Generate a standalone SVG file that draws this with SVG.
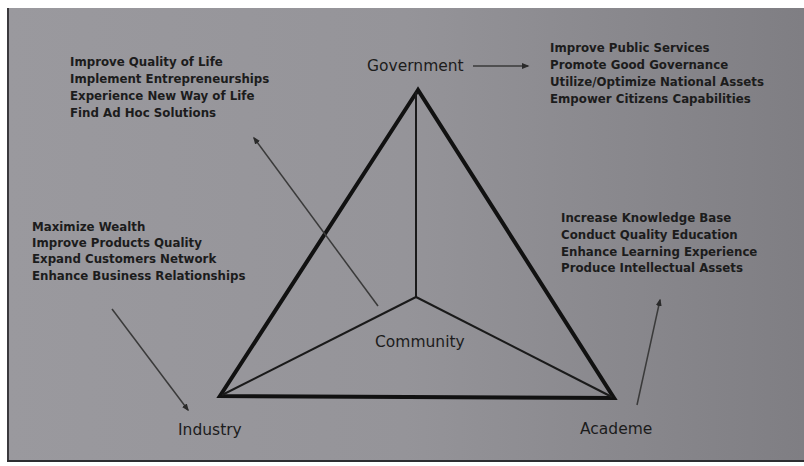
<svg xmlns="http://www.w3.org/2000/svg" width="804" height="466" viewBox="0 0 804 466">
<defs>
<linearGradient id="bg" x1="0" y1="0" x2="1" y2="0">
<stop offset="0" stop-color="#9a999e"/>
<stop offset="0.5" stop-color="#959499"/>
<stop offset="1" stop-color="#7f7e83"/>
</linearGradient>
<marker id="ah" viewBox="0 0 10 10" refX="8" refY="5" markerWidth="5" markerHeight="5" orient="auto">
<path d="M0,1 L10,5 L0,9 z" fill="#2a2a2a"/>
</marker>
<style>
.lst{font-family:"DejaVu Sans","Liberation Sans",sans-serif;font-size:11.8px;fill:#1c1c1c;font-weight:bold}
.lbl{font-family:"DejaVu Sans","Liberation Sans",sans-serif;font-size:15.5px;fill:#1c1c1c}
.outer{fill:none;stroke:#111;stroke-width:4;stroke-linejoin:miter}
.inner{fill:none;stroke:#1a1a1a;stroke-width:2}
.arr{stroke:#3a3a3a;stroke-width:1.5;fill:none;marker-end:url(#ah)}
</style>
</defs>
<rect x="0" y="0" width="804" height="466" fill="#ffffff"/>
<rect x="7" y="8" width="797" height="454" fill="url(#bg)"/>
<rect x="7" y="8" width="2" height="454" fill="#3a393d"/>
<rect x="7" y="460" width="797" height="2" fill="#2e2d31"/>

<g id="triangle">
<polygon class="outer" points="418,90 220,396 614,398"/>
</g>
<g id="connectors">
<line class="inner" x1="416" y1="92" x2="416" y2="297"/>
<line class="inner" x1="416" y1="297" x2="222" y2="395"/>
<line class="inner" x1="416" y1="297" x2="612" y2="397"/>
<line class="arr" x1="378" y1="306" x2="254" y2="138"/>
<line class="arr" x1="112" y1="309" x2="188" y2="410"/>
<line class="arr" x1="637" y1="405" x2="660" y2="300"/>
<line class="arr" x1="473" y1="66" x2="528" y2="66"/>
</g>

<g id="government">
<text class="lbl" x="367" y="71">Government</text>
</g>
<g id="community">
<text class="lbl" x="375" y="347">Community</text>
</g>
<g id="industry">
<text class="lbl" x="178" y="435">Industry</text>
</g>
<g id="academe">
<text class="lbl" x="580" y="434">Academe</text>
</g>

<g id="community-goals">
<text class="lst" x="70" y="66">Improve Quality of Life</text>
<text class="lst" x="70" y="83">Implement Entrepreneurships</text>
<text class="lst" x="70" y="100">Experience New Way of Life</text>
<text class="lst" x="70" y="117">Find Ad Hoc Solutions</text>
</g>
<g id="government-goals">
<text class="lst" x="550" y="52">Improve Public Services</text>
<text class="lst" x="550" y="69">Promote Good Governance</text>
<text class="lst" x="550" y="86">Utilize/Optimize National Assets</text>
<text class="lst" x="550" y="103">Empower Citizens Capabilities</text>
</g>
<g id="industry-goals">
<text class="lst" x="32" y="231">Maximize Wealth</text>
<text class="lst" x="32" y="247">Improve Products Quality</text>
<text class="lst" x="32" y="263">Expand Customers Network</text>
<text class="lst" x="32" y="280">Enhance Business Relationships</text>
</g>
<g id="academe-goals">
<text class="lst" x="561" y="222">Increase Knowledge Base</text>
<text class="lst" x="561" y="239">Conduct Quality Education</text>
<text class="lst" x="561" y="256">Enhance Learning Experience</text>
<text class="lst" x="561" y="272">Produce Intellectual Assets</text>
</g>
</svg>
